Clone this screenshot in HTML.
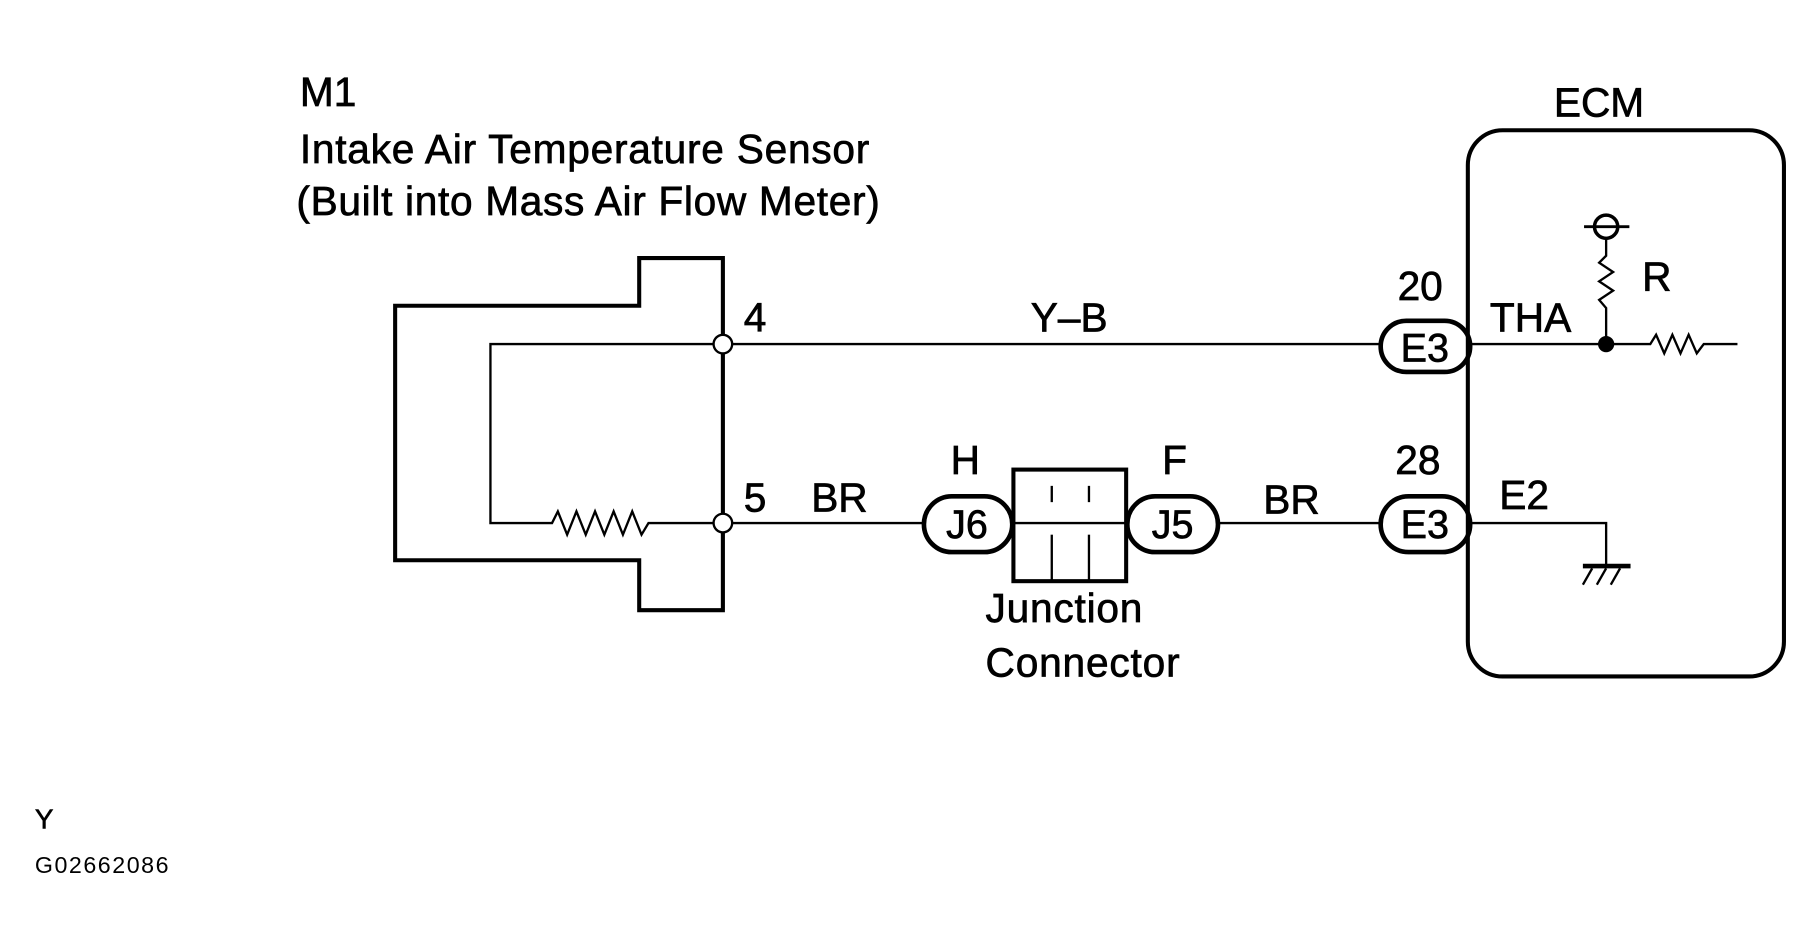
<!DOCTYPE html>
<html><head><meta charset="utf-8"><style>
html,body{margin:0;padding:0;background:#fff;}
svg{display:block}
text{font-family:"Liberation Sans",Arial,sans-serif;fill:#000;}
</style></head><body>
<svg width="1813" height="945" viewBox="0 0 1560 813" xmlns="http://www.w3.org/2000/svg">
<g font-size="35" stroke="#000" stroke-width="0.6">
<text x="258" y="91">M1</text>
<text x="258" y="140" textLength="490">Intake Air Temperature Sensor</text>
<text x="255" y="185" textLength="502">(Built into Mass Air Flow Meter)</text>
<text x="1337" y="100">ECM</text>
<text x="640" y="285">4</text>
<text x="640" y="440">5</text>
<text x="920" y="285" text-anchor="middle">Y–B</text>
<text x="1222" y="258" text-anchor="middle">20</text>
<text x="1282" y="285">THA</text>
<text x="1413" y="250">R</text>
<text x="698" y="440">BR</text>
<text x="818" y="408">H</text>
<text x="1000" y="408">F</text>
<text x="1087" y="442">BR</text>
<text x="1220" y="408" text-anchor="middle">28</text>
<text x="1290" y="438">E2</text>
<text x="848" y="535" textLength="135">Junction</text>
<text x="848" y="582" textLength="167">Connector</text>
</g>
<text x="30" y="713" font-size="24" stroke="#000" stroke-width="0.5">Y</text>
<text x="30" y="751" font-size="20" textLength="115">G02662086</text>
<g fill="none" stroke="#000">
<polygon points="340,263 550,263 550,222 622,222 622,525 550,525 550,482 340,482" stroke-width="3.5"/>
<line x1="622" y1="222" x2="622" y2="525" stroke-width="3"/>
<polyline points="614,296 422,296 422,450 475,450 480,440 488,460 496,440 504,460 512,440 520,460 528,440 536,460 544,440 552,460 558,450 614,450" stroke-width="2"/>
<line x1="630" y1="296" x2="1190" y2="296" stroke-width="2"/>
<line x1="630" y1="450" x2="796" y2="450" stroke-width="2"/>
<line x1="1048" y1="450" x2="1188" y2="450" stroke-width="2"/>
<rect x="1263" y="112" width="272" height="470" rx="30" stroke-width="3.5"/>
<rect x="1188" y="276" width="77" height="44" rx="22" stroke-width="4"/>
<rect x="1188" y="427" width="77" height="48" rx="24" stroke-width="4"/>
<rect x="795" y="427" width="76" height="48" rx="24" stroke-width="4"/>
<rect x="970" y="427" width="78" height="48" rx="24" stroke-width="4"/>
<rect x="872" y="404" width="97" height="96" stroke-width="3.5"/>
<line x1="872" y1="450" x2="969" y2="450" stroke-width="2"/>
<line x1="905" y1="418" x2="905" y2="432" stroke-width="2"/>
<line x1="937" y1="418" x2="937" y2="432" stroke-width="2"/>
<line x1="905" y1="460" x2="905" y2="500" stroke-width="2"/>
<line x1="937" y1="460" x2="937" y2="500" stroke-width="2"/>
<polyline points="1265,296 1420,296 1425,288 1432,304 1439,288 1446,304 1453,288 1460,304 1466,296 1495,296" stroke-width="2"/>
<polyline points="1382,296 1382,265 1376,258 1388,250 1376,242 1388,234 1376,226 1382,220 1382,205" stroke-width="2"/>
<circle cx="1382" cy="195" r="10" stroke-width="3"/>
<line x1="1363" y1="195" x2="1402" y2="195" stroke-width="2.5"/>
<polyline points="1265,450 1382,450 1382,487" stroke-width="2"/>
<line x1="1362" y1="487" x2="1403" y2="487" stroke-width="4"/>
<line x1="1370" y1="489" x2="1362" y2="503" stroke-width="2"/>
<line x1="1382" y1="489" x2="1374" y2="503" stroke-width="2"/>
<line x1="1394" y1="489" x2="1386" y2="503" stroke-width="2"/>
</g>
<circle cx="622" cy="296" r="8" fill="#fff" stroke="#000" stroke-width="2"/>
<circle cx="622" cy="450" r="8" fill="#fff" stroke="#000" stroke-width="2"/>
<circle cx="1382" cy="296" r="7" fill="#000"/>
<g font-size="34" text-anchor="middle" stroke="#000" stroke-width="0.6">
<text x="1226" y="311">E3</text>
<text x="1226" y="463">E3</text>
<text x="832" y="463">J6</text>
<text x="1009" y="463">J5</text>
</g>
</svg>
</body></html>
